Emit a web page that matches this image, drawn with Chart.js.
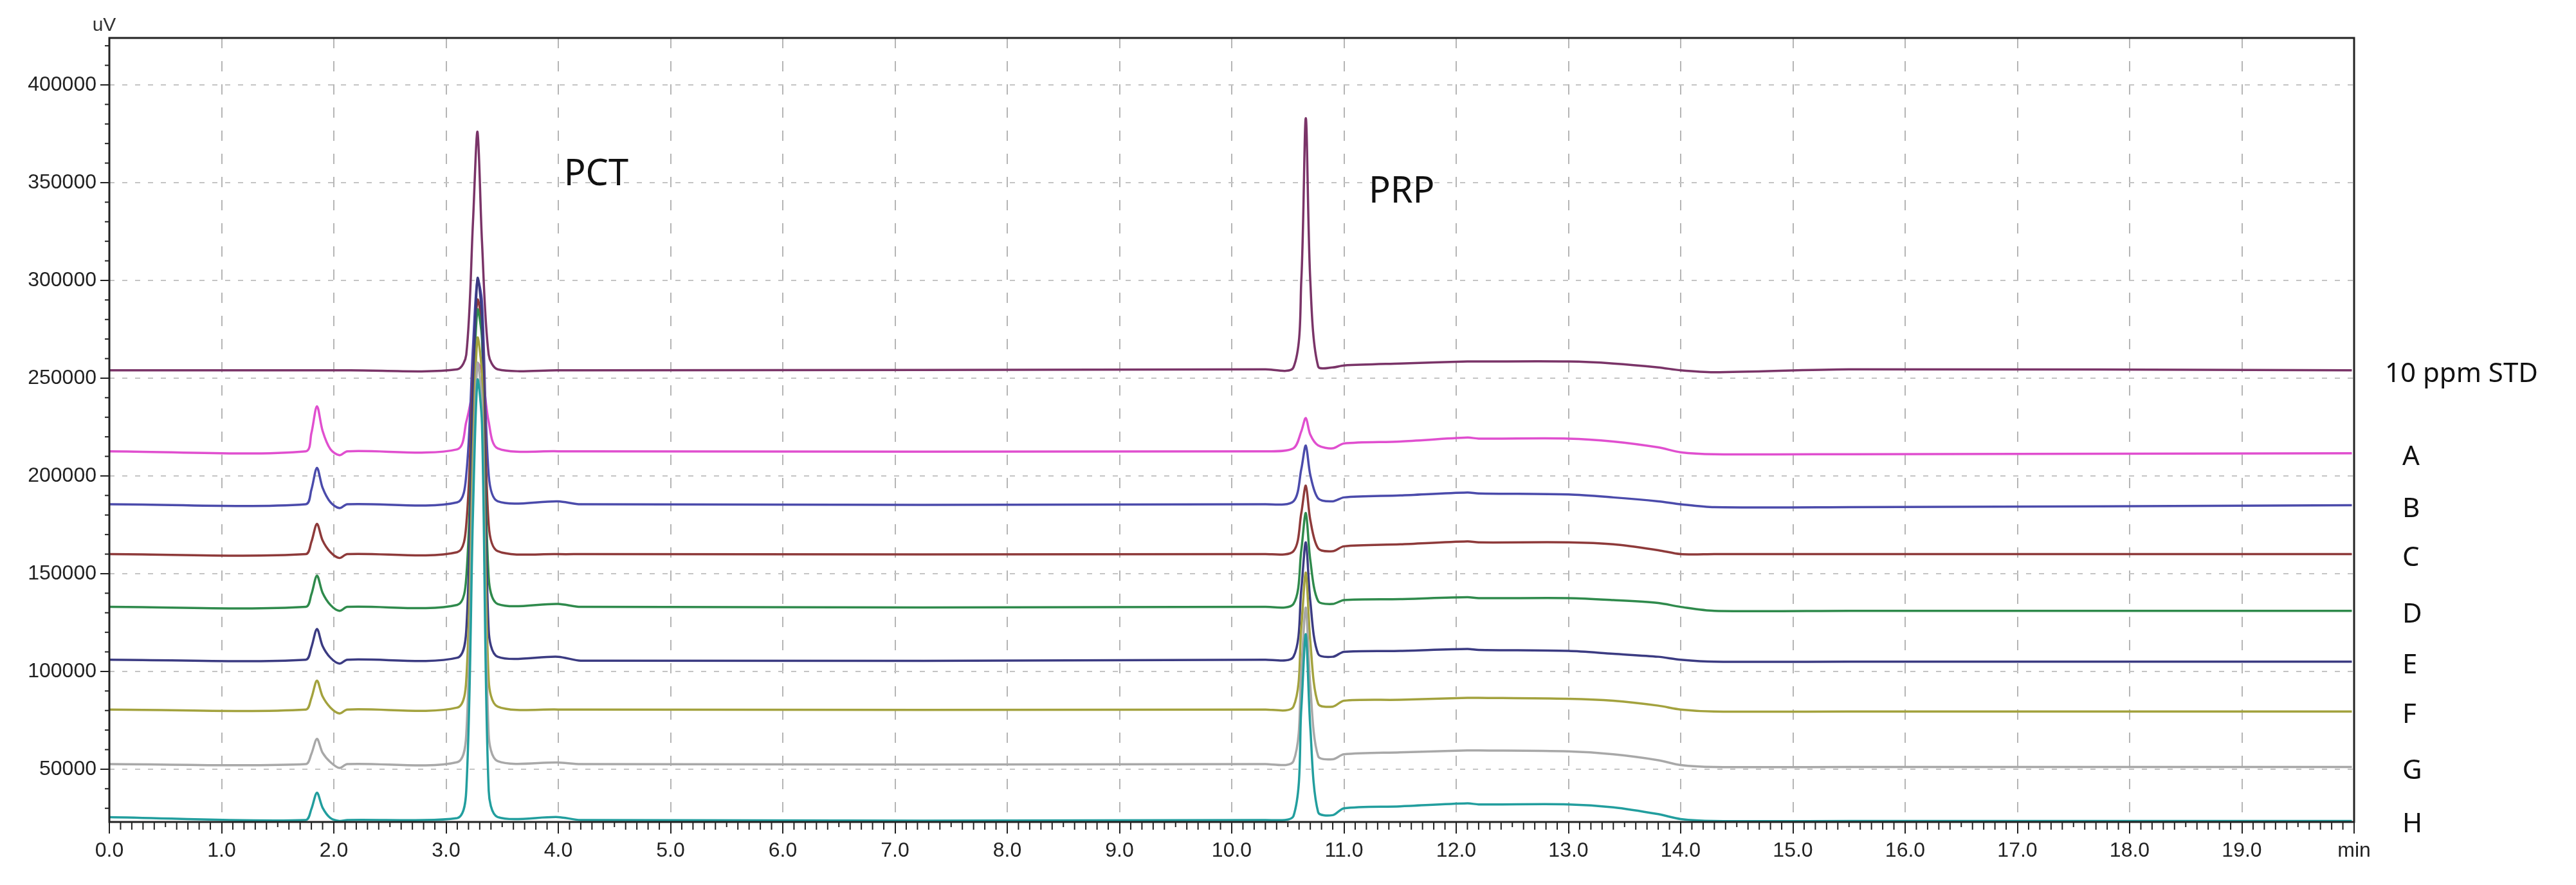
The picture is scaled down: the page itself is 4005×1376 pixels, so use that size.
<!DOCTYPE html>
<html>
<head>
<meta charset="utf-8">
<script src="https://cdn.jsdelivr.net/npm/chart.js@4.4.1/dist/chart.umd.min.js"></script>
<style>
  html, body { margin: 0; padding: 0; background: #fff; }
  canvas { display: block; }
</style>
</head>
<body>
<canvas id="chrom" width="4005" height="1376"></canvas>
<script>
// retention time points (min), shared by every trace
const times = [0, 1.75, 1.80, 1.85, 1.90, 1.97, 2.05, 2.12, 3.10, 3.18, 3.24, 3.28, 3.32, 3.38, 3.46, 4.0, 4.2,
  10.3, 10.55, 10.62, 10.66, 10.70, 10.77, 10.9, 11.0, 11.5, 12.1, 12.2, 13.0, 13.4, 13.8, 14.0, 14.3, 15.5, 19.98];

// detector signal (uV)
const std10 = [254000,254000,254000,254000,254000,254000,254000,254000,254500,262000,330000,376000,320000,262000,254500,254000,254000,
  254500,255500,300000,383000,300000,256000,255500,256500,257500,258500,258500,258500,257500,255500,254000,253000,254500,254000];
const sampleA = [212600,212600,221800,235600,223000,213600,210600,212600,213600,227600,244000,257600,253000,227600,214100,212600,212600,
  212600,214100,222800,229600,221100,215600,214100,216600,217600,219600,219100,219100,217600,214600,212100,211100,211100,211600];
const sampleB = [185500,185500,192900,204100,193900,186500,183500,185500,186500,200500,266000,300500,289000,200500,187000,187000,185500,
  185500,187000,203500,215500,200500,188500,187000,189000,190000,191500,191000,190500,189000,187000,185500,184000,184000,185000];
const sampleC = [160000,160000,166200,175500,167000,161000,158000,160000,161000,175000,251000,290000,277000,175000,161500,160000,160000,
  160000,161500,181000,195000,177500,163000,161500,164000,165000,166500,166000,166000,165000,162000,160000,160000,160000,160000];
const sampleD = [133000,133000,139400,149000,140200,134000,131000,133000,134000,148000,239000,285000,270000,148000,134500,134500,133000,
  133000,134500,162000,181000,157000,136000,134500,136500,137000,138000,137500,137500,136500,135000,133000,131000,131000,131000];
const sampleE = [106000,106000,112300,121700,113000,107000,104000,106000,107000,121000,242000,301000,281000,121000,107500,107500,105500,
  106000,107500,142000,166000,136000,109000,107500,110000,110500,111500,111000,110500,109000,107500,106000,105000,105000,105000];
const sampleF = [80500,80500,86400,95300,87200,81500,78500,80500,81500,95500,213500,270500,251500,95500,82000,80500,80500,
  80500,82000,122500,150500,115500,83500,82000,85000,85500,86500,86500,86000,85000,82500,80500,79500,79500,79500];
const sampleG = [52600,52600,57800,65500,58400,53600,50600,52600,53600,67600,196000,257600,237000,67600,54100,53400,52600,
  52600,54100,100600,132600,92600,56600,55100,57600,58600,59600,59600,59100,57600,54600,52100,51100,51100,51100];
const sampleH = [25500,24000,29600,38000,30300,25000,23500,24000,25000,39000,181500,249000,226500,39000,25500,25500,24000,
  24000,26000,81000,119000,71500,28000,26500,30000,31000,32500,32000,32000,30500,27000,24500,23500,23500,23500];

const traceNames = ['10 ppm STD', 'A', 'B', 'C', 'D', 'E', 'F', 'G', 'H'];
const traceData = [std10, sampleA, sampleB, sampleC, sampleD, sampleE, sampleF, sampleG, sampleH];
const traceColors = ['#7a3468', '#e04fcf', '#4b4bab', '#8e3a3a', '#2f8a4c', '#3b3b82', '#a3a23e', '#a8a8a8', '#229e9e'];

const yTicks = [50000, 100000, 150000, 200000, 250000, 300000, 350000, 400000];
const xTicks = [0,1,2,3,4,5,6,7,8,9,10,11,12,13,14,15,16,17,18,19,20];

// peak names, placed at (time, uV)
const peakLabels = [
  { text: 'PCT', x: 4.05, y: 354000 },
  { text: 'PRP', x: 11.22, y: 345000 }
];

const extras = {
  id: 'extras',
  afterDraw(chart) {
    const { ctx, chartArea: a, scales: { x, y } } = chart;
    ctx.save();
    // frame
    ctx.strokeStyle = '#222';
    ctx.lineWidth = 3;
    ctx.strokeRect(a.left, a.top, a.right - a.left, a.bottom - a.top);
    // minor ticks
    ctx.lineWidth = 2;
    for (let v = 30000; v < 424000; v += 10000) {
      if (v % 50000 === 0) continue;
      const py = y.getPixelForValue(v);
      ctx.beginPath(); ctx.moveTo(a.left - 7, py); ctx.lineTo(a.left, py); ctx.stroke();
    }
    for (let i = 1; i < 200; i++) {
      if (i % 10 === 0) continue;
      const px = x.getPixelForValue(i / 10);
      const len = i % 5 === 0 ? 8 : 12;
      ctx.beginPath(); ctx.moveTo(px, a.bottom); ctx.lineTo(px, a.bottom + len); ctx.stroke();
    }
    // unit
    ctx.fillStyle = '#333';
    ctx.font = '30px "Liberation Sans Narrow", "Liberation Sans", Arial';
    ctx.textAlign = 'center';
    ctx.textBaseline = 'bottom';
    ctx.fillText('uV', a.left - 8, a.top - 4);
    // peak names
    ctx.fillStyle = '#111';
    ctx.font = '56px "Noto Sans", "Open Sans", sans-serif';
    ctx.textAlign = 'left';
    ctx.textBaseline = 'middle';
    peakLabels.forEach(p => ctx.fillText(p.text, x.getPixelForValue(p.x), y.getPixelForValue(p.y)));
    // trace names on the right
    ctx.font = '42px "Noto Sans", "Open Sans", sans-serif';
    traceNames.forEach((n, i) => {
      const base = traceData[i][traceData[i].length - 1];
      const px = i === 0 ? a.right + 48 : a.right + 75;
      ctx.fillText(n, px, y.getPixelForValue(base) + 6);
    });
    ctx.restore();
  }
};

new Chart(document.getElementById('chrom'), {
  type: 'line',
  data: {
    datasets: traceData.map((d, i) => ({
      label: traceNames[i],
      data: d.map((v, k) => ({ x: times[k], y: v })),
      borderColor: traceColors[i],
      borderWidth: 3.5,
      pointRadius: 0,
      tension: 0.3,
      fill: false
    })).reverse()
  },
  options: {
    responsive: false,
    devicePixelRatio: 1,
    animation: false,
    layout: { padding: { top: 59, right: 345, left: 0, bottom: 0 } },
    plugins: { legend: { display: false }, tooltip: { enabled: false } },
    scales: {
      x: {
        type: 'linear', min: 0, max: 20,
        afterBuildTicks: s => { s.ticks = xTicks.map(v => ({ value: v })); },
        afterFit: s => { s.height = 98; },
        grid: { color: '#b5b5b5', lineWidth: 2, tickLength: 18, tickColor: '#222', drawOnChartArea: true },
        border: { display: false, dash: [16, 20] },
        ticks: {
          color: '#222', padding: 8, maxRotation: 0, autoSkip: false,
          font: { size: 32, family: '"Liberation Sans Narrow", "Liberation Sans", Arial' },
          callback: v => v === 20 ? 'min' : v.toFixed(1)
        }
      },
      y: {
        type: 'linear', min: 23000, max: 424000,
        afterBuildTicks: s => { s.ticks = yTicks.map(v => ({ value: v })); },
        afterFit: s => { s.width = 170; },
        grid: { color: '#c4c4c4', lineWidth: 2, tickLength: 14, tickColor: '#222' },
        border: { display: false, dash: [8, 12] },
        ticks: {
          color: '#222', padding: 6,
          font: { size: 32, family: '"Liberation Sans Narrow", "Liberation Sans", Arial' },
          callback: v => String(v)
        }
      }
    }
  },
  plugins: [extras]
});
</script>
</body>
</html>
